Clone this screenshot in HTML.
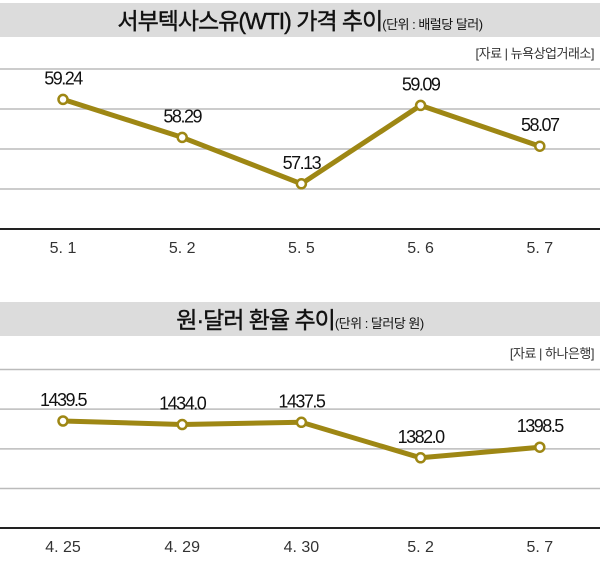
<!DOCTYPE html>
<html><head><meta charset="utf-8"><style>
body{margin:0;background:#fff;width:600px;height:581px;overflow:hidden;font-family:"Liberation Sans","Noto Sans CJK KR",sans-serif}
svg text{font-family:"Liberation Sans","Noto Sans CJK KR",sans-serif}
</style></head><body>
<svg id="c" width="600" height="581">
<rect x="0" y="3" width="600" height="34" fill="#dcdcdc"/>
<text x="300" y="29" text-anchor="middle" font-size="23" fill="#111" stroke="#111" stroke-width="0.4" letter-spacing="-1">서부텍사스유(WTI) 가격 추이<tspan font-size="13" stroke-width="0" letter-spacing="-0.5">(단위 : 배럴당 달러)</tspan></text>
<text x="594" y="58" text-anchor="end" font-size="13" fill="#333" letter-spacing="-0.5">[자료 | 뉴욕상업거래소]</text>
<rect x="0" y="302" width="600" height="34" fill="#dcdcdc"/>
<text x="300" y="328" text-anchor="middle" font-size="23" fill="#111" stroke="#111" stroke-width="0.4" letter-spacing="-1">원·달러 환율 추이<tspan font-size="13" stroke-width="0" letter-spacing="-0.5">(단위 : 달러당 원)</tspan></text>
<text x="594" y="358" text-anchor="end" font-size="13" fill="#333" letter-spacing="-0.5">[자료 | 하나은행]</text>
</svg>
<script>
const wtiCats=["5. 1","5. 2","5. 5","5. 6","5. 7"];
const wtiVals=[59.24,58.29,57.13,59.09,58.07];
const wtiLabels=["59.24","58.29","57.13","59.09","58.07"];
const wtiTicks=[60,59,58,57];
const fxCats=["4. 25","4. 29","4. 30","5. 2","5. 7"];
const fxVals=[1439.5,1434.0,1437.5,1382.0,1398.5];
const fxLabels=["1439.5","1434.0","1437.5","1382.0","1398.5"];
const fxTicks=[1520,1458,1396,1334];
const svg=document.getElementById('c');
const NS="http://www.w3.org/2000/svg";
const xs=i=>63+i*119.2;
function mk(t,a){const e=document.createElementNS(NS,t);for(const k in a)e.setAttribute(k,a[k]);svg.appendChild(e);return e;}
function chart(pre,cats,vals,labels,ticks,y,axisY,lblDy){
  ticks.forEach(t=>{const l=mk('line',{x1:0,x2:600,y1:y(t),y2:y(t),stroke:'#bbb','stroke-width':1.5});
    
    });
  const ax=mk('line',{x1:0,x2:600,y1:axisY,y2:axisY,stroke:'#222','stroke-width':2});
  
  
  cats.forEach((c,i)=>{const t=mk('text',{x:xs(i),y:axisY+24,'text-anchor':'middle','font-size':16,fill:'#333'});t.textContent=c;
    
    });
  const p=mk('polyline',{points:vals.map((v,i)=>xs(i)+','+y(v)).join(' '),fill:'none',stroke:'#9e8714','stroke-width':5,'stroke-linejoin':'round'});
  
  
  vals.forEach((v,i)=>{const c=mk('circle',{cx:xs(i),cy:y(v),r:4.5,fill:'#fff',stroke:'#9e8714','stroke-width':2.5});
    
    
    const t=mk('text',{x:xs(i),y:y(v)-lblDy,'text-anchor':'middle','font-size':18,fill:'#111','letter-spacing':'-1.5'});t.textContent=labels[i];
    
    });
}
chart('wti',wtiCats,wtiVals,wtiLabels,wtiTicks,v=>69+(60-v)*40,229,15);
chart('fx',fxCats,fxVals,fxLabels,fxTicks,v=>421+(1439.5-v)*0.64,528,15);
</script>
</body></html>
